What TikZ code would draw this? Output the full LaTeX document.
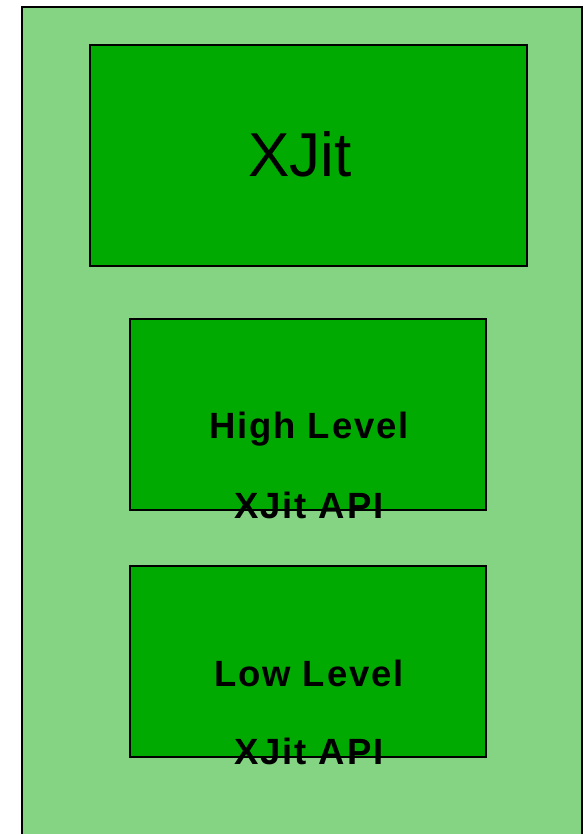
\documentclass[tikz,border=0pt]{standalone}
\usepackage{fontspec}
\setmainfont{Liberation Sans}
\newfontfamily\spacedfont[LetterSpace=5]{Liberation Sans}
\usetikzlibrary{positioning}

\definecolor{paleGreen}{HTML}{84D484}
\definecolor{boxGreen}{HTML}{00AA00}

\begin{document}
\begin{tikzpicture}[
  x=1pt, y=-1pt,
  frame/.style={draw, line width=2pt, fill=paleGreen},
  block/.style={draw, line width=1.3pt, fill=boxGreen, inner sep=0pt},
  title/.style={font=\fontsize{62}{70}\selectfont, anchor=base, inner sep=0pt},
  apitext/.style={font=\spacedfont\bfseries\fontsize{36.5}{40}\selectfont, anchor=base, inner sep=0pt}
]
  \useasboundingbox (0,0) rectangle (587,834);
  \clip (0,0) rectangle (587,834);
  \draw[frame] (22,7) rectangle (582,860);

  % the three blocks
  \node[block, minimum width=437pt, minimum height=221pt] (xjit) at (308.5,155.5) {};
  \node[block, minimum width=356pt, minimum height=191pt] (high) at (308,414.5) {};
  \node[block, minimum width=356pt, minimum height=191pt] (low) at (308,661.5) {};

  % labels
  \node[title] (xjitname) at (300,177) {XJit};
  \node[apitext] (highname) at (309,438) {High Level};
  \node[apitext] (highapi) at (309,518) {XJit API};
  \node[apitext] (lowname) at (309,686) {Low Level};
  \node[apitext] (lowapi) at (309,764) {XJit API};
\end{tikzpicture}
\end{document}
